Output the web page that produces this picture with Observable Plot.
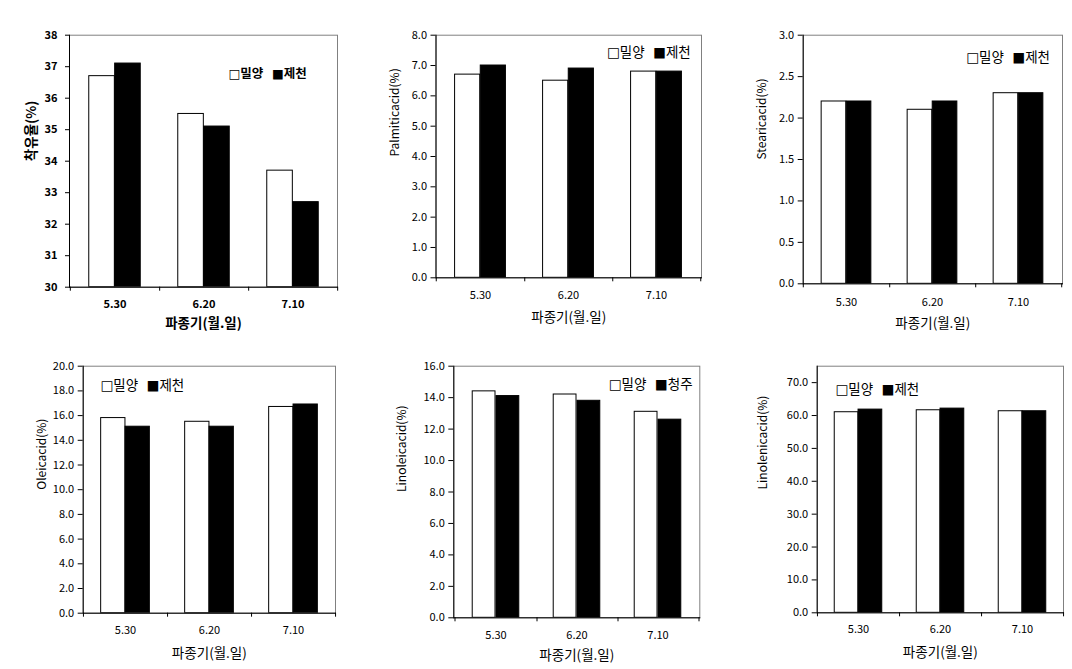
<!DOCTYPE html>
<html><head><meta charset="utf-8">
<script src="https://cdn.jsdelivr.net/npm/d3@7"></script>
<script src="https://cdn.jsdelivr.net/npm/@observablehq/plot@0.6"></script>
<style>
body{margin:0;background:#fff;}
#wrap{position:relative;width:1072px;height:669px;overflow:hidden;background:#fff;font-family:"Noto Sans CJK KR",sans-serif;}
.panel{position:absolute;}
</style></head><body><div id="wrap"></div>
<script>
// ---- data ----
const dates = ["5.30", "6.20", "7.10"];
const xTitle = "파종기(월.일)";

const oil_milyang = [36.7, 35.5, 33.7];
const oil_jecheon = [37.1, 35.1, 32.7];
const palmitic_milyang = [6.7, 6.5, 6.8];
const palmitic_jecheon = [7.0, 6.9, 6.8];
const stearic_milyang = [2.2, 2.1, 2.3];
const stearic_jecheon = [2.2, 2.2, 2.3];
const oleic_milyang = [15.8, 15.5, 16.7];
const oleic_jecheon = [15.1, 15.1, 16.9];
const linoleic_milyang = [14.4, 14.2, 13.1];
const linoleic_cheongju = [14.1, 13.8, 12.6];
const linolenic_milyang = [61.0, 61.6, 61.3];
const linolenic_jecheon = [61.8, 62.1, 61.3];

const ticks1 = [30, 31, 32, 33, 34, 35, 36, 37, 38];
const ticks2 = [0, 1, 2, 3, 4, 5, 6, 7, 8];
const ticks3 = [0, 0.5, 1, 1.5, 2, 2.5, 3];
const ticks4 = [0, 2, 4, 6, 8, 10, 12, 14, 16, 18, 20];
const ticks5 = [0, 2, 4, 6, 8, 10, 12, 14, 16];
const ticks6 = [0, 10, 20, 30, 40, 50, 60, 70];

const seriesA = "밀양";
const seriesB1 = "제천";
const seriesB2 = "청주";

function rows(a, b, nameA, nameB) {
  const out = [];
  dates.forEach((d, i) => {
    out.push({date: d, s: nameA, v: a[i]});
    out.push({date: d, s: nameB, v: b[i]});
  });
  return out;
}

const panels = [
  {yLabel: "착유율(%)", data: rows(oil_milyang, oil_jecheon, seriesA, seriesB1), a: seriesA, b: seriesB1,
   domain: [30, 38], ticks: ticks1, fmt: d3.format("d"), bold: true,
   box: {x: 0, y: 0, w: 357, h: 340}, frame: {l: 69, r: 337, t: 34.7, b: 286.7},
   yLabelDx: -38, yLabelSize: 13.5, tickSize: 4, tickPad: 8, xTickPad: 12.5, xTitleDy: 36.5,
   legDx: 159, legDy: 38.6, legSize: 12.5},
  {yLabel: "Palmiticacid(%)", data: rows(palmitic_milyang, palmitic_jecheon, seriesA, seriesB1), a: seriesA, b: seriesB1,
   domain: [0, 8], ticks: ticks2, fmt: d3.format(".1f"), bold: false,
   box: {x: 360, y: 0, w: 357, h: 340}, frame: {l: 435.5, r: 701, t: 34.7, b: 277.3},
   yLabelDx: -40.5, yLabelSize: 12, tickSize: 5, tickPad: 4, xTickPad: 13.5, xTitleDy: 39.4,
   legDx: 171, legDy: 17.6, legSize: 13.5},
  {yLabel: "Stearicacid(%)", data: rows(stearic_milyang, stearic_jecheon, seriesA, seriesB1), a: seriesA, b: seriesB1,
   domain: [0, 3], ticks: ticks3, fmt: d3.format(".1f"), bold: false,
   box: {x: 720, y: 0, w: 352, h: 340}, frame: {l: 802.7, r: 1062, t: 34.7, b: 283.3},
   yLabelDx: -41, yLabelSize: 12, tickSize: 5, tickPad: 4, xTickPad: 14.3, xTitleDy: 40,
   legDx: 163, legDy: 22.5, legSize: 13.5},
  {yLabel: "Oleicacid(%)", data: rows(oleic_milyang, oleic_jecheon, seriesA, seriesB1), a: seriesA, b: seriesB1,
   domain: [0, 20], ticks: ticks4, fmt: d3.format(".1f"), bold: false,
   box: {x: 0, y: 340, w: 357, h: 329}, frame: {l: 82.7, r: 335, t: 365.7, b: 612.7},
   yLabelDx: -41, yLabelSize: 12, tickSize: 5, tickPad: 4, xTickPad: 13.2, xTitleDy: 40.6,
   legDx: 17.3, legDy: 19, legSize: 13.5},
  {yLabel: "Linoleicacid(%)", data: rows(linoleic_milyang, linoleic_cheongju, seriesA, seriesB2), a: seriesA, b: seriesB2,
   domain: [0, 16], ticks: ticks5, fmt: d3.format(".1f"), bold: false,
   box: {x: 360, y: 340, w: 357, h: 329}, frame: {l: 453.3, r: 699.3, t: 365.7, b: 617.3},
   yLabelDx: -51.6, yLabelSize: 12, tickSize: 5, tickPad: 4, xTickPad: 13.5, xTitleDy: 37.7,
   legDx: 155, legDy: 18.6, legSize: 13.5},
  {yLabel: "Linolenicacid(%)", data: rows(linolenic_milyang, linolenic_jecheon, seriesA, seriesB1), a: seriesA, b: seriesB1,
   domain: [0, 75], ticks: ticks6, fmt: d3.format(".1f"), bold: false,
   box: {x: 720, y: 340, w: 352, h: 329}, frame: {l: 816.7, r: 1063, t: 365.7, b: 612.3},
   yLabelDx: -53.7, yLabelSize: 12, tickSize: 5, tickPad: 4, xTickPad: 12, xTitleDy: 39.4,
   legDx: 18.3, legDy: 23.3, legSize: 13.5}
];

const wrap = document.getElementById("wrap");
const barFrac = 0.29;

panels.forEach(p => {
  const {box, frame} = p;
  const bw = (frame.r - frame.l) / dates.length;
  const fw = p.bold ? "bold" : "normal";
  const legendText = "□" + p.a + "\u00a0\u00a0■" + p.b;
  const chart = Plot.plot({
    width: box.w,
    height: box.h,
    marginLeft: frame.l - box.x,
    marginRight: box.x + box.w - frame.r,
    marginTop: frame.t - box.y,
    marginBottom: box.y + box.h - frame.b,
    style: {fontFamily: "'Noto Sans CJK KR', sans-serif", fontSize: "11px", color: "#000", background: "transparent", overflow: "visible"},
    x: {domain: dates, padding: 0, label: null},
    y: {domain: p.domain, label: null},
    marks: [
      Plot.barY(p.data.filter(d => d.s === p.a), {x: "date", y1: p.domain[0], y2: "v", fill: "white", stroke: "black", strokeWidth: 1,
        insetLeft: bw * (0.5 - barFrac), insetRight: bw * 0.5}),
      Plot.barY(p.data.filter(d => d.s === p.b), {x: "date", y1: p.domain[0], y2: "v", fill: "black", stroke: "black", strokeWidth: 1,
        insetLeft: bw * 0.5, insetRight: bw * (0.5 - barFrac)}),
      Plot.frame({stroke: "#808080"}),
      Plot.frame({anchor: "left", stroke: "black"}),
      Plot.frame({anchor: "bottom", stroke: "black"}),
      Plot.axisY({ticks: p.ticks, tickFormat: p.fmt, tickSize: p.tickSize, tickPadding: p.tickPad, label: null, fontSize: 11, fontWeight: fw}),
      Plot.axisX({tickSize: 0, tickPadding: p.xTickPad, label: null, fontSize: 11, fontWeight: fw}),
      Plot.axisX({tickSize: 4, tickFormat: () => "", label: null, dx: bw / 2}),
      Plot.axisX({ticks: [dates[0]], tickSize: 4, tickFormat: () => "", label: null, dx: -bw / 2}),
      Plot.text([xTitle], {frameAnchor: "bottom", dy: p.xTitleDy, lineAnchor: "middle", fontSize: 13.5, fontWeight: fw}),
      Plot.text([p.yLabel], {frameAnchor: "left", rotate: -90, dx: p.yLabelDx, lineAnchor: "middle", fontSize: p.yLabelSize, fontWeight: fw}),
      Plot.text([legendText], {frameAnchor: "top-left", textAnchor: "start", lineAnchor: "middle", dx: p.legDx, dy: p.legDy,
        fontSize: p.legSize, fontWeight: fw, fontFamily: "'DejaVu Sans', 'Noto Sans CJK KR', sans-serif"})
    ]
  });
  chart.classList.add("panel");
  chart.style.left = box.x + "px";
  chart.style.top = box.y + "px";
  wrap.appendChild(chart);
});
</script>
</body></html>
